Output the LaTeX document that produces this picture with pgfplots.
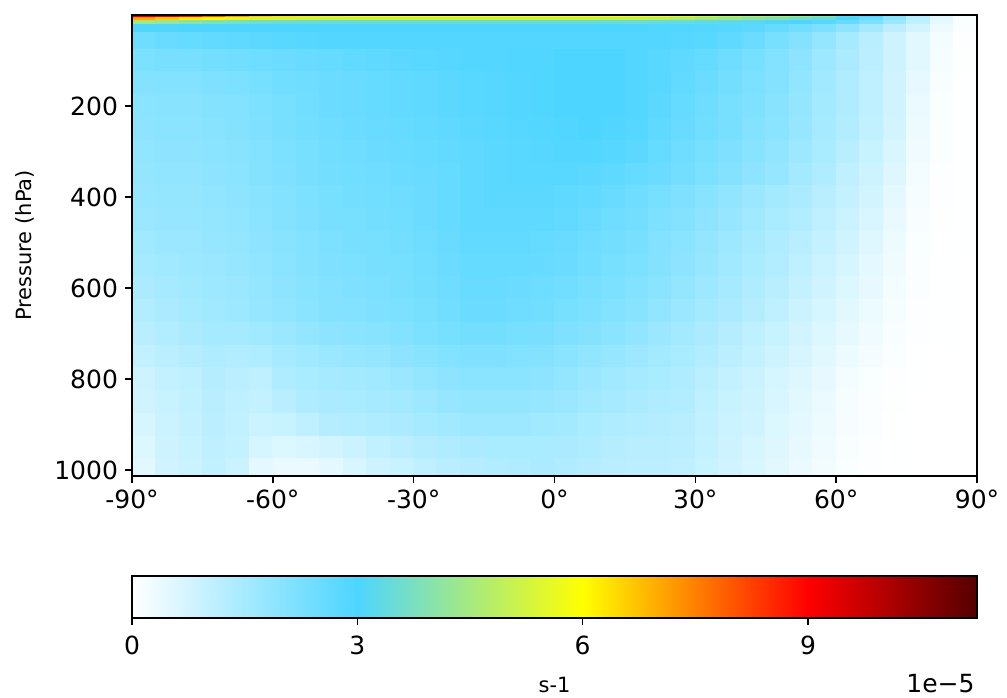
\documentclass[border=0pt]{standalone}
\usepackage{fontspec}
\setmainfont{DejaVu Sans}
\usepackage{pgfplots}
\pgfplotsset{compat=1.18}
\pgfplotsset{
  colormap={cm}{rgb255(0cm)=(255,255,255) rgb255(3cm)=(77,213,255) rgb255(6cm)=(255,255,0) rgb255(9cm)=(255,0,0) rgb255(11.25cm)=(85,0,0)},
  every axis/.append style={
    /pgf/number format/assume math mode=true,
    /pgf/number format/1000 sep={},
    tick align=outside,
    major tick length=3.5pt,
    every tick/.style={black, line width=0.7pt},
    axis line style={line width=0.9pt},
    ticklabel style={font=\fontsize{12.5}{15}\selectfont},
    label style={font=\fontsize{10.5}{12}\selectfont},
    point meta min=0, point meta max=11.25,
  },
}
\begin{document}
\begin{tikzpicture}
\useasboundingbox (-66pt,-110.5pt) rectangle (437.5pt,238pt);
\begin{axis}[
  anchor=south west, at={(0pt,0pt)},
  scale only axis, width=422.5pt, height=230.5pt,
  xmin=-90, xmax=90, ymin=0, ymax=1013, y dir=reverse,
  xtick={-90,-60,-30,0,30,60,90},
  xticklabels={-90°,-60°,-30°,0°,30°,60°,90°},
  ytick={200,400,600,800,1000},
  xtick pos=left, ytick pos=left,
  ylabel={Pressure (hPa)},
  ylabel style={at={(axis description cs:-0.1266,0.5)}, anchor=center},
  axis on top,
]
\addplot[matrix plot*, mesh/cols=36, mesh/rows=24, point meta=explicit] table[x=x, y=y, meta=c] {
x y c
-87.5 3 9.6
-82.5 3 9.3
-77.5 3 8.8
-72.5 3 8.0
-67.5 3 7.2
-62.5 3 6.6
-57.5 3 6.3
-52.5 3 6.2
-47.5 3 6.1
-42.5 3 6.0
-37.5 3 6.0
-32.5 3 6.0
-27.5 3 6.0
-22.5 3 6.0
-17.5 3 6.0
-12.5 3 6.0
-7.5 3 6.0
-2.5 3 6.0
2.5 3 6.0
7.5 3 6.0
12.5 3 6.0
17.5 3 5.9
22.5 3 5.8
27.5 3 5.6
32.5 3 5.3
37.5 3 5.0
42.5 3 4.8
47.5 3 4.6
52.5 3 4.4
57.5 3 4.1
62.5 3 3.4
67.5 3 2.8
72.5 3 2.0
77.5 3 1.2
82.5 3 0.5
87.5 3 0.1
-87.5 9 7.0
-82.5 9 6.6
-77.5 9 6.2
-72.5 9 5.8
-67.5 9 5.5
-62.5 9 5.3
-57.5 9 5.2
-52.5 9 5.1
-47.5 9 5.0
-42.5 9 5.0
-37.5 9 5.0
-32.5 9 5.0
-27.5 9 5.0
-22.5 9 5.0
-17.5 9 5.0
-12.5 9 5.0
-7.5 9 5.0
-2.5 9 5.0
2.5 9 5.0
7.5 9 5.0
12.5 9 4.9
17.5 9 4.9
22.5 9 4.8
27.5 9 4.6
32.5 9 4.4
37.5 9 4.2
42.5 9 4.0
47.5 9 3.8
52.5 9 3.6
57.5 9 3.4
62.5 9 3.0
67.5 9 2.5
72.5 9 1.9
77.5 9 1.2
82.5 9 0.5
87.5 9 0.1
-87.5 16 4.4
-82.5 16 4.2
-77.5 16 4.0
-72.5 16 3.8
-67.5 16 3.7
-62.5 16 3.6
-57.5 16 3.55
-52.5 16 3.5
-47.5 16 3.5
-42.5 16 3.5
-37.5 16 3.5
-32.5 16 3.5
-27.5 16 3.5
-22.5 16 3.5
-17.5 16 3.5
-12.5 16 3.5
-7.5 16 3.5
-2.5 16 3.5
2.5 16 3.5
7.5 16 3.5
12.5 16 3.5
17.5 16 3.5
22.5 16 3.45
27.5 16 3.4
32.5 16 3.35
37.5 16 3.3
42.5 16 3.2
47.5 16 3.1
52.5 16 3.0
57.5 16 2.85
62.5 16 2.6
67.5 16 2.2
72.5 16 1.7
77.5 16 1.1
82.5 16 0.45
87.5 16 0.1
-87.5 26 3.05
-82.5 26 3.05
-77.5 26 3.0
-72.5 26 3.0
-67.5 26 3.0
-62.5 26 3.0
-57.5 26 3.0
-52.5 26 3.0
-47.5 26 3.0
-42.5 26 3.0
-37.5 26 3.0
-32.5 26 3.0
-27.5 26 3.0
-22.5 26 3.0
-17.5 26 3.0
-12.5 26 3.0
-7.5 26 3.0
-2.5 26 3.0
2.5 26 3.0
7.5 26 3.0
12.5 26 3.0
17.5 26 3.0
22.5 26 2.95
27.5 26 2.95
32.5 26 2.9
37.5 26 2.85
42.5 26 2.75
47.5 26 2.6
52.5 26 2.4
57.5 26 2.2
62.5 26 1.9
67.5 26 1.55
72.5 26 1.15
77.5 26 0.75
82.5 26 0.3
87.5 26 0.06
-87.5 50 2.45
-82.5 50 2.55
-77.5 50 2.6
-72.5 50 2.65
-67.5 50 2.7
-62.5 50 2.75
-57.5 50 2.8
-52.5 50 2.85
-47.5 50 2.9
-42.5 50 2.9
-37.5 50 2.9
-32.5 50 2.9
-27.5 50 2.9
-22.5 50 2.9
-17.5 50 2.9
-12.5 50 2.9
-7.5 50 2.9
-2.5 50 2.9
2.5 50 2.9
7.5 50 2.9
12.5 50 2.9
17.5 50 2.9
22.5 50 2.9
27.5 50 2.85
32.5 50 2.8
37.5 50 2.7
42.5 50 2.5
47.5 50 2.3
52.5 50 2.05
57.5 50 1.8
62.5 50 1.5
67.5 50 1.2
72.5 50 0.85
77.5 50 0.5
82.5 50 0.2
87.5 50 0.04
-87.5 100 2.2
-82.5 100 2.25
-77.5 100 2.3
-72.5 100 2.35
-67.5 100 2.4
-62.5 100 2.45
-57.5 100 2.5
-52.5 100 2.55
-47.5 100 2.6
-42.5 100 2.65
-37.5 100 2.7
-32.5 100 2.75
-27.5 100 2.8
-22.5 100 2.85
-17.5 100 2.9
-12.5 100 2.9
-7.5 100 2.95
-2.5 100 2.95
2.5 100 3.0
7.5 100 3.0
12.5 100 3.0
17.5 100 2.9
22.5 100 2.8
27.5 100 2.7
32.5 100 2.6
37.5 100 2.45
42.5 100 2.3
47.5 100 2.1
52.5 100 1.9
57.5 100 1.65
62.5 100 1.4
67.5 100 1.15
72.5 100 0.85
77.5 100 0.5
82.5 100 0.15
87.5 100 0.03
-87.5 150 2.05
-82.5 150 2.1
-77.5 150 2.1
-72.5 150 2.15
-67.5 150 2.2
-62.5 150 2.3
-57.5 150 2.4
-52.5 150 2.45
-47.5 150 2.5
-42.5 150 2.55
-37.5 150 2.6
-32.5 150 2.65
-27.5 150 2.7
-22.5 150 2.75
-17.5 150 2.8
-12.5 150 2.85
-7.5 150 2.9
-2.5 150 2.95
2.5 150 3.0
7.5 150 3.0
12.5 150 3.0
17.5 150 2.9
22.5 150 2.8
27.5 150 2.65
32.5 150 2.5
37.5 150 2.35
42.5 150 2.2
47.5 150 2.05
52.5 150 1.85
57.5 150 1.6
62.5 150 1.35
67.5 150 1.1
72.5 150 0.8
77.5 150 0.4
82.5 150 0.12
87.5 150 0.02
-87.5 200 1.95
-82.5 200 2.0
-77.5 200 2.0
-72.5 200 2.05
-67.5 200 2.1
-62.5 200 2.2
-57.5 200 2.3
-52.5 200 2.4
-47.5 200 2.5
-42.5 200 2.55
-37.5 200 2.6
-32.5 200 2.65
-27.5 200 2.7
-22.5 200 2.75
-17.5 200 2.8
-12.5 200 2.85
-7.5 200 2.9
-2.5 200 2.95
2.5 200 3.0
7.5 200 3.0
12.5 200 3.0
17.5 200 2.9
22.5 200 2.75
27.5 200 2.6
32.5 200 2.45
37.5 200 2.3
42.5 200 2.15
47.5 200 2.0
52.5 200 1.8
57.5 200 1.55
62.5 200 1.35
67.5 200 1.1
72.5 200 0.8
77.5 200 0.35
82.5 200 0.1
87.5 200 0.02
-87.5 250 1.9
-82.5 250 1.95
-77.5 250 1.95
-72.5 250 2.0
-67.5 250 2.05
-62.5 250 2.15
-57.5 250 2.25
-52.5 250 2.35
-47.5 250 2.45
-42.5 250 2.5
-37.5 250 2.55
-32.5 250 2.6
-27.5 250 2.65
-22.5 250 2.7
-17.5 250 2.75
-12.5 250 2.8
-7.5 250 2.85
-2.5 250 2.9
2.5 250 2.95
7.5 250 3.0
12.5 250 2.95
17.5 250 2.85
22.5 250 2.7
27.5 250 2.55
32.5 250 2.4
37.5 250 2.25
42.5 250 2.1
47.5 250 1.95
52.5 250 1.75
57.5 250 1.5
62.5 250 1.3
67.5 250 1.05
72.5 250 0.75
77.5 250 0.3
82.5 250 0.08
87.5 250 0.02
-87.5 300 1.85
-82.5 300 1.9
-77.5 300 1.9
-72.5 300 1.95
-67.5 300 2.0
-62.5 300 2.1
-57.5 300 2.2
-52.5 300 2.3
-47.5 300 2.4
-42.5 300 2.45
-37.5 300 2.5
-32.5 300 2.55
-27.5 300 2.6
-22.5 300 2.65
-17.5 300 2.7
-12.5 300 2.75
-7.5 300 2.8
-2.5 300 2.85
2.5 300 2.9
7.5 300 2.9
12.5 300 2.85
17.5 300 2.75
22.5 300 2.6
27.5 300 2.45
32.5 300 2.3
37.5 300 2.15
42.5 300 2.0
47.5 300 1.85
52.5 300 1.65
57.5 300 1.45
62.5 300 1.2
67.5 300 0.95
72.5 300 0.65
77.5 300 0.25
82.5 300 0.06
87.5 300 0.01
-87.5 350 1.8
-82.5 350 1.85
-77.5 350 1.85
-72.5 350 1.9
-67.5 350 1.95
-62.5 350 2.05
-57.5 350 2.15
-52.5 350 2.25
-47.5 350 2.35
-42.5 350 2.4
-37.5 350 2.45
-32.5 350 2.5
-27.5 350 2.55
-22.5 350 2.6
-17.5 350 2.7
-12.5 350 2.75
-7.5 350 2.8
-2.5 350 2.8
2.5 350 2.8
7.5 350 2.75
12.5 350 2.7
17.5 350 2.6
22.5 350 2.5
27.5 350 2.35
32.5 350 2.2
37.5 350 2.05
42.5 350 1.9
47.5 350 1.75
52.5 350 1.55
57.5 350 1.35
62.5 350 1.1
67.5 350 0.85
72.5 350 0.55
77.5 350 0.2
82.5 350 0.05
87.5 350 0.01
-87.5 400 1.75
-82.5 400 1.8
-77.5 400 1.8
-72.5 400 1.85
-67.5 400 1.9
-62.5 400 2.0
-57.5 400 2.1
-52.5 400 2.2
-47.5 400 2.3
-42.5 400 2.35
-37.5 400 2.4
-32.5 400 2.45
-27.5 400 2.5
-22.5 400 2.6
-17.5 400 2.7
-12.5 400 2.75
-7.5 400 2.75
-2.5 400 2.75
2.5 400 2.7
7.5 400 2.65
12.5 400 2.55
17.5 400 2.45
22.5 400 2.3
27.5 400 2.15
32.5 400 2.0
37.5 400 1.85
42.5 400 1.7
47.5 400 1.55
52.5 400 1.4
57.5 400 1.2
62.5 400 1.0
67.5 400 0.75
72.5 400 0.45
77.5 400 0.15
82.5 400 0.04
87.5 400 0.01
-87.5 450 1.7
-82.5 450 1.75
-77.5 450 1.75
-72.5 450 1.8
-67.5 450 1.85
-62.5 450 1.95
-57.5 450 2.05
-52.5 450 2.15
-47.5 450 2.25
-42.5 450 2.3
-37.5 450 2.35
-32.5 450 2.4
-27.5 450 2.5
-22.5 450 2.6
-17.5 450 2.7
-12.5 450 2.7
-7.5 450 2.7
-2.5 450 2.7
2.5 450 2.65
7.5 450 2.55
12.5 450 2.45
17.5 450 2.35
22.5 450 2.2
27.5 450 2.05
32.5 450 1.9
37.5 450 1.75
42.5 450 1.6
47.5 450 1.45
52.5 450 1.3
57.5 450 1.1
62.5 450 0.9
67.5 450 0.65
72.5 450 0.38
77.5 450 0.12
82.5 450 0.03
87.5 450 0.01
-87.5 500 1.6
-82.5 500 1.7
-77.5 500 1.7
-72.5 500 1.75
-67.5 500 1.8
-62.5 500 1.9
-57.5 500 2.0
-52.5 500 2.1
-47.5 500 2.2
-42.5 500 2.25
-37.5 500 2.3
-32.5 500 2.35
-27.5 500 2.45
-22.5 500 2.55
-17.5 500 2.65
-12.5 500 2.65
-7.5 500 2.65
-2.5 500 2.6
2.5 500 2.55
7.5 500 2.45
12.5 500 2.35
17.5 500 2.25
22.5 500 2.1
27.5 500 1.95
32.5 500 1.8
37.5 500 1.65
42.5 500 1.5
47.5 500 1.35
52.5 500 1.2
57.5 500 1.0
62.5 500 0.8
67.5 500 0.55
72.5 500 0.3
77.5 500 0.1
82.5 500 0.02
87.5 500 0.01
-87.5 550 1.5
-82.5 550 1.6
-77.5 550 1.65
-72.5 550 1.7
-67.5 550 1.75
-62.5 550 1.85
-57.5 550 1.95
-52.5 550 2.05
-47.5 550 2.15
-42.5 550 2.2
-37.5 550 2.25
-32.5 550 2.3
-27.5 550 2.4
-22.5 550 2.5
-17.5 550 2.6
-12.5 550 2.6
-7.5 550 2.6
-2.5 550 2.55
2.5 550 2.5
7.5 550 2.4
12.5 550 2.3
17.5 550 2.2
22.5 550 2.05
27.5 550 1.9
32.5 550 1.75
37.5 550 1.6
42.5 550 1.45
47.5 550 1.3
52.5 550 1.1
57.5 550 0.9
62.5 550 0.7
67.5 550 0.45
72.5 550 0.25
77.5 550 0.08
82.5 550 0.02
87.5 550 0.0
-87.5 600 1.4
-82.5 600 1.5
-77.5 600 1.6
-72.5 600 1.65
-67.5 600 1.7
-62.5 600 1.8
-57.5 600 1.9
-52.5 600 2.0
-47.5 600 2.1
-42.5 600 2.15
-37.5 600 2.2
-32.5 600 2.25
-27.5 600 2.35
-22.5 600 2.45
-17.5 600 2.55
-12.5 600 2.55
-7.5 600 2.5
-2.5 600 2.45
2.5 600 2.4
7.5 600 2.3
12.5 600 2.2
17.5 600 2.1
22.5 600 1.95
27.5 600 1.8
32.5 600 1.65
37.5 600 1.5
42.5 600 1.35
47.5 600 1.2
52.5 600 1.0
57.5 600 0.8
62.5 600 0.6
67.5 600 0.4
72.5 600 0.2
77.5 600 0.06
82.5 600 0.01
87.5 600 0.0
-87.5 650 1.3
-82.5 650 1.4
-77.5 650 1.5
-72.5 650 1.6
-67.5 650 1.65
-62.5 650 1.75
-57.5 650 1.85
-52.5 650 1.95
-47.5 650 2.05
-42.5 650 2.1
-37.5 650 2.15
-32.5 650 2.2
-27.5 650 2.3
-22.5 650 2.4
-17.5 650 2.5
-12.5 650 2.5
-7.5 650 2.45
-2.5 650 2.4
2.5 650 2.3
7.5 650 2.2
12.5 650 2.1
17.5 650 2.0
22.5 650 1.85
27.5 650 1.7
32.5 650 1.55
37.5 650 1.4
42.5 650 1.25
47.5 650 1.1
52.5 650 0.9
57.5 650 0.7
62.5 650 0.5
67.5 650 0.32
72.5 650 0.16
77.5 650 0.05
82.5 650 0.01
87.5 650 0.0
-87.5 700 1.2
-82.5 700 1.3
-77.5 700 1.4
-72.5 700 1.5
-67.5 700 1.5
-62.5 700 1.6
-57.5 700 1.7
-52.5 700 1.8
-47.5 700 1.9
-42.5 700 1.95
-37.5 700 2.0
-32.5 700 2.1
-27.5 700 2.2
-22.5 700 2.3
-17.5 700 2.35
-12.5 700 2.35
-7.5 700 2.3
-2.5 700 2.25
2.5 700 2.15
7.5 700 2.05
12.5 700 1.95
17.5 700 1.85
22.5 700 1.7
27.5 700 1.55
32.5 700 1.4
37.5 700 1.25
42.5 700 1.1
47.5 700 0.95
52.5 700 0.78
57.5 700 0.6
62.5 700 0.42
67.5 700 0.26
72.5 700 0.12
77.5 700 0.04
82.5 700 0.01
87.5 700 0.0
-87.5 750 1.05
-82.5 750 1.15
-77.5 750 1.25
-72.5 750 1.35
-67.5 750 1.3
-62.5 750 1.35
-57.5 750 1.5
-52.5 750 1.6
-47.5 750 1.7
-42.5 750 1.75
-37.5 750 1.8
-32.5 750 1.9
-27.5 750 2.0
-22.5 750 2.1
-17.5 750 2.15
-12.5 750 2.15
-7.5 750 2.1
-2.5 750 2.05
2.5 750 1.95
7.5 750 1.85
12.5 750 1.75
17.5 750 1.65
22.5 750 1.55
27.5 750 1.45
32.5 750 1.3
37.5 750 1.15
42.5 750 1.0
47.5 750 0.85
52.5 750 0.68
57.5 750 0.5
62.5 750 0.32
67.5 750 0.18
72.5 750 0.08
77.5 750 0.02
82.5 750 0.0
87.5 750 0.0
-87.5 800 0.85
-82.5 800 1.0
-77.5 800 1.1
-72.5 800 1.25
-67.5 800 1.15
-62.5 800 1.1
-57.5 800 1.35
-52.5 800 1.45
-47.5 800 1.5
-42.5 800 1.55
-37.5 800 1.6
-32.5 800 1.7
-27.5 800 1.8
-22.5 800 1.9
-17.5 800 1.95
-12.5 800 1.95
-7.5 800 1.95
-2.5 800 1.9
2.5 800 1.8
7.5 800 1.7
12.5 800 1.6
17.5 800 1.5
22.5 800 1.45
27.5 800 1.35
32.5 800 1.15
37.5 800 1.0
42.5 800 0.9
47.5 800 0.7
52.5 800 0.55
57.5 800 0.4
62.5 800 0.2
67.5 800 0.1
72.5 800 0.04
77.5 800 0.01
82.5 800 0.0
87.5 800 0.0
-87.5 850 0.8
-82.5 850 0.95
-77.5 850 1.05
-72.5 850 1.2
-67.5 850 1.1
-62.5 850 1.0
-57.5 850 1.2
-52.5 850 1.35
-47.5 850 1.4
-42.5 850 1.45
-37.5 850 1.5
-32.5 850 1.55
-27.5 850 1.65
-22.5 850 1.75
-17.5 850 1.8
-12.5 850 1.8
-7.5 850 1.8
-2.5 850 1.75
2.5 850 1.7
7.5 850 1.6
12.5 850 1.5
17.5 850 1.4
22.5 850 1.35
27.5 850 1.3
32.5 850 1.1
37.5 850 0.95
42.5 850 0.85
47.5 850 0.65
52.5 850 0.5
57.5 850 0.35
62.5 850 0.17
67.5 850 0.08
72.5 850 0.03
77.5 850 0.0
82.5 850 0.0
87.5 850 0.0
-87.5 900 0.7
-82.5 900 0.9
-77.5 900 1.0
-72.5 900 1.15
-67.5 900 1.05
-62.5 900 0.9
-57.5 900 0.95
-52.5 900 1.1
-47.5 900 1.25
-42.5 900 1.3
-37.5 900 1.35
-32.5 900 1.4
-27.5 900 1.5
-22.5 900 1.6
-17.5 900 1.65
-12.5 900 1.65
-7.5 900 1.65
-2.5 900 1.6
2.5 900 1.55
7.5 900 1.45
12.5 900 1.35
17.5 900 1.3
22.5 900 1.25
27.5 900 1.2
32.5 900 1.05
37.5 900 0.9
42.5 900 0.8
47.5 900 0.6
52.5 900 0.45
57.5 900 0.3
62.5 900 0.14
67.5 900 0.06
72.5 900 0.02
77.5 900 0.0
82.5 900 0.0
87.5 900 0.0
-87.5 950 0.6
-82.5 950 0.85
-77.5 950 0.95
-72.5 950 1.1
-67.5 950 1.0
-62.5 950 0.7
-57.5 950 0.6
-52.5 950 0.65
-47.5 950 0.75
-42.5 950 0.9
-37.5 950 1.05
-32.5 950 1.15
-27.5 950 1.25
-22.5 950 1.35
-17.5 950 1.4
-12.5 950 1.45
-7.5 950 1.45
-2.5 950 1.45
2.5 950 1.4
7.5 950 1.35
12.5 950 1.25
17.5 950 1.2
22.5 950 1.2
27.5 950 1.15
32.5 950 1.0
37.5 950 0.85
42.5 950 0.7
47.5 950 0.55
52.5 950 0.4
57.5 950 0.25
62.5 950 0.12
67.5 950 0.05
72.5 950 0.01
77.5 950 0.0
82.5 950 0.0
87.5 950 0.0
-87.5 1000 0.5
-82.5 1000 0.8
-77.5 1000 0.9
-72.5 1000 1.05
-67.5 1000 0.9
-62.5 1000 0.45
-57.5 1000 0.35
-52.5 1000 0.35
-47.5 1000 0.45
-42.5 1000 0.65
-37.5 1000 0.85
-32.5 1000 0.95
-27.5 1000 1.1
-22.5 1000 1.2
-17.5 1000 1.25
-12.5 1000 1.3
-7.5 1000 1.35
-2.5 1000 1.4
2.5 1000 1.35
7.5 1000 1.25
12.5 1000 1.2
17.5 1000 1.15
22.5 1000 1.15
27.5 1000 1.1
32.5 1000 0.95
37.5 1000 0.8
42.5 1000 0.65
47.5 1000 0.5
52.5 1000 0.35
57.5 1000 0.22
62.5 1000 0.1
67.5 1000 0.04
72.5 1000 0.01
77.5 1000 0.0
82.5 1000 0.0
87.5 1000 0.0
};
\end{axis}
% colour bar
\begin{axis}[
  anchor=north west, at={(0pt,-50pt)},
  scale only axis, width=422.5pt, height=21pt,
  xmin=0, xmax=11.25, ymin=0, ymax=1,
  xtick={0,3,6,9}, ytick=\empty,
  xtick pos=left,
  xticklabel style={yshift=-2pt},
  xlabel={s-1},
  xlabel style={yshift=-4pt},
  axis on top,
]
\addplot[surf, shader=interp, mesh/cols=5, mesh/rows=2, point meta=explicit] table[x=x, y=y, meta=c] {
x y c
0 0 0
3 0 3
6 0 6
9 0 9
11.25 0 11.25
0 1 0
3 1 3
6 1 6
9 1 9
11.25 1 11.25
};
\end{axis}
\node[anchor=base east, inner sep=0pt, font=\fontsize{12.5}{15}\selectfont] at (421.5pt,-108pt) {1e−5};
\end{tikzpicture}
\end{document}
